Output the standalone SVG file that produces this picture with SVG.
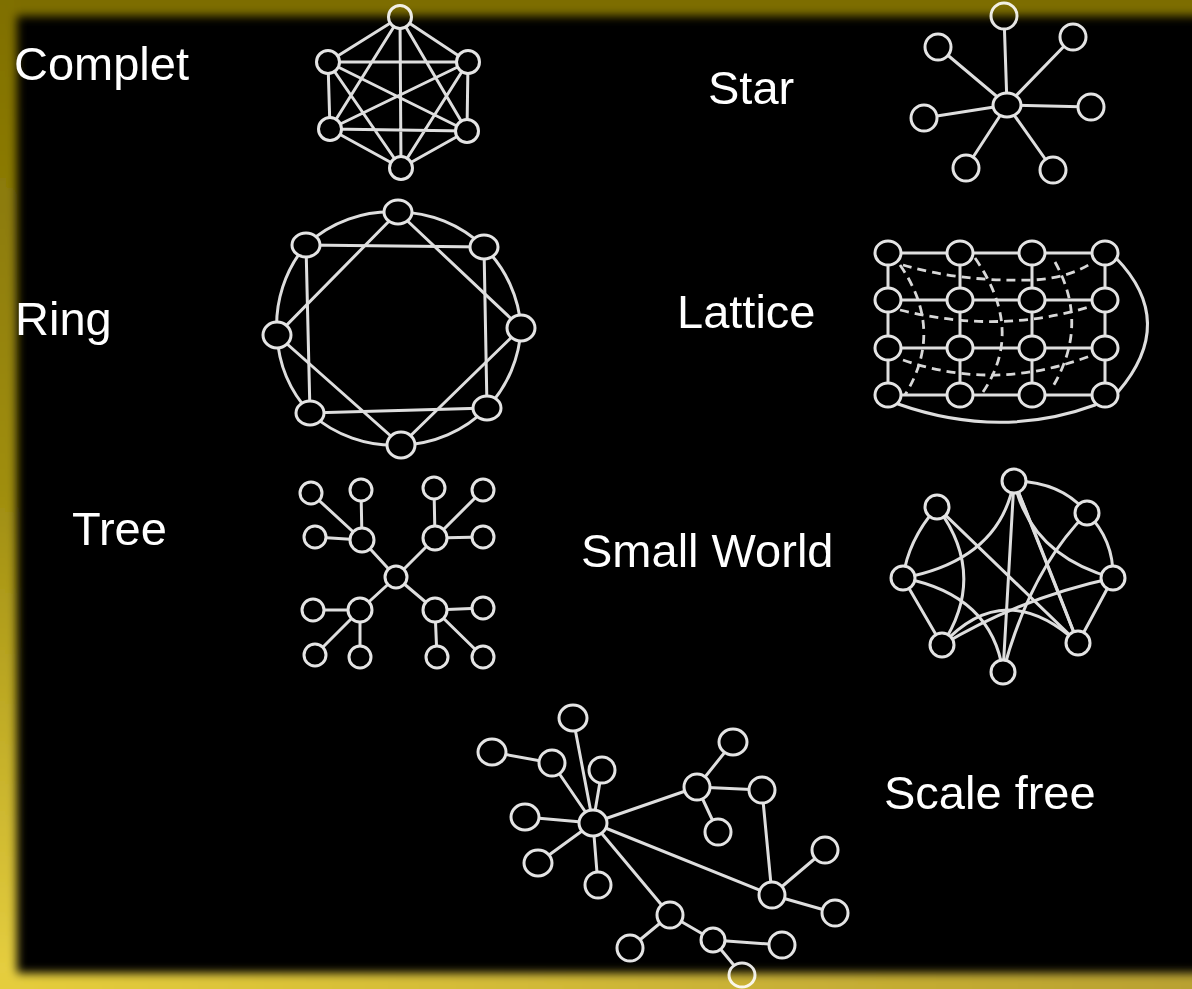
<svg xmlns="http://www.w3.org/2000/svg" width="1192" height="989" viewBox="0 0 1192 989">
<defs>
<style>
.e{fill:none;stroke:#dedede;stroke-width:3;stroke-linecap:round}
.d{fill:none;stroke:#d8d8d8;stroke-width:2.8;stroke-dasharray:9 6}
.n{fill:#000;stroke:#e4e4e4;stroke-width:3}
.t{font-family:"Liberation Sans",Arial,sans-serif;font-size:47px;fill:#fff}
</style>
<linearGradient id="gl" x1="0" y1="0" x2="0" y2="1">
<stop offset="0" stop-color="#7d6d00"/>
<stop offset="0.5" stop-color="#a08e10"/>
<stop offset="1" stop-color="#ecd444"/>
</linearGradient>
<linearGradient id="gb" x1="0" y1="0" x2="1" y2="0">
<stop offset="0" stop-color="#e6ce3c"/>
<stop offset="1" stop-color="#b8a030"/>
</linearGradient>
<filter id="blur" x="-0.1" y="-0.1" width="1.2" height="1.2">
<feGaussianBlur stdDeviation="5"/>
</filter>
</defs>
<rect x="0" y="0" width="1192" height="989" fill="#000"/>

<!-- Complete graph -->
<g id="complete">
<g id="complete-edges">
<path class="e" d="M400,17 L328,62 M400,17 L468,62 M400,17 L330,129 M400,17 L467,131 M400,17 L401,168 M328,62 L468,62 M328,62 L330,129 M328,62 L467,131 M328,62 L401,168 M468,62 L330,129 M468,62 L467,131 M468,62 L401,168 M330,129 L467,131 M330,129 L401,168 M467,131 L401,168"/>
</g>
<circle id="complete-n1" class="n" cx="400" cy="17" r="11.5"/>
<circle id="complete-n2" class="n" cx="328" cy="62" r="11.5"/>
<circle id="complete-n3" class="n" cx="468" cy="62" r="11.5"/>
<circle id="complete-n4" class="n" cx="330" cy="129" r="11.5"/>
<circle id="complete-n5" class="n" cx="467" cy="131" r="11.5"/>
<circle id="complete-n6" class="n" cx="401" cy="168" r="11.5"/>
</g>

<!-- Star -->
<g id="star">
<g id="star-edges">
<path class="e" d="M1007,105 L1004,16 M1007,105 L1073,37 M1007,105 L1091,107 M1007,105 L1053,170 M1007,105 L966,168 M1007,105 L924,118 M1007,105 L938,47"/>
</g>
<ellipse id="star-hub" class="n" cx="1007" cy="105" rx="14" ry="12"/>
<circle id="star-n1" class="n" cx="1004" cy="16" r="13"/>
<circle id="star-n2" class="n" cx="1073" cy="37" r="13"/>
<circle id="star-n3" class="n" cx="1091" cy="107" r="13"/>
<circle id="star-n4" class="n" cx="1053" cy="170" r="13"/>
<circle id="star-n5" class="n" cx="966" cy="168" r="13"/>
<circle id="star-n6" class="n" cx="924" cy="118" r="13"/>
<circle id="star-n7" class="n" cx="938" cy="47" r="13"/>
</g>

<!-- Ring -->
<g id="ring">
<g id="ring-edges">
<path class="e" d="M398,212 A125,125 0 0 1 484,247 A125,125 0 0 1 521,328 A125,125 0 0 1 487,408 A125,125 0 0 1 401,445 A125,125 0 0 1 310,413 A125,125 0 0 1 277,335 A125,125 0 0 1 306,245 A125,125 0 0 1 398,212 Z"/>
<path class="e" d="M306,245 L484,247 L487,408 L310,413 Z"/>
<path class="e" d="M398,212 L521,328 L401,445 L277,335 Z"/>
</g>
<ellipse id="ring-n1" class="n" cx="398" cy="212" rx="14" ry="12"/>
<ellipse id="ring-n2" class="n" cx="484" cy="247" rx="14" ry="12"/>
<ellipse id="ring-n3" class="n" cx="521" cy="328" rx="14" ry="13"/>
<ellipse id="ring-n4" class="n" cx="487" cy="408" rx="14" ry="12"/>
<ellipse id="ring-n5" class="n" cx="401" cy="445" rx="14" ry="13"/>
<ellipse id="ring-n6" class="n" cx="310" cy="413" rx="14" ry="12"/>
<ellipse id="ring-n7" class="n" cx="277" cy="335" rx="14" ry="13"/>
<ellipse id="ring-n8" class="n" cx="306" cy="245" rx="14" ry="12"/>
</g>

<!-- Lattice -->
<g id="lattice">
<g id="lattice-edges">
<path class="d" d="M903,265 Q960,282 1033,280 Q1070,278 1093,262"/>
<path class="d" d="M900,310 Q1000,335 1092,306"/>
<path class="d" d="M903,360 Q995,392 1090,356"/>
<path class="d" d="M900,265 Q945,330 905,395"/>
<path class="d" d="M975,258 Q1025,330 983,392"/>
<path class="d" d="M1055,262 Q1090,325 1052,388"/>
<path class="e" d="M888,253 H1105 M888,300 H1105 M888,348 H1105 M888,395 H1105 M888,253 V395 M960,253 V395 M1032,253 V395 M1105,253 V395"/>
<path class="e" d="M1116,258 Q1178,322 1118,392"/>
<path class="e" d="M898,404 Q1000,440 1095,405"/>
</g>
<ellipse id="lat-11" class="n" cx="888" cy="253" rx="13" ry="12"/>
<ellipse id="lat-12" class="n" cx="960" cy="253" rx="13" ry="12"/>
<ellipse id="lat-13" class="n" cx="1032" cy="253" rx="13" ry="12"/>
<ellipse id="lat-14" class="n" cx="1105" cy="253" rx="13" ry="12"/>
<ellipse id="lat-21" class="n" cx="888" cy="300" rx="13" ry="12"/>
<ellipse id="lat-22" class="n" cx="960" cy="300" rx="13" ry="12"/>
<ellipse id="lat-23" class="n" cx="1032" cy="300" rx="13" ry="12"/>
<ellipse id="lat-24" class="n" cx="1105" cy="300" rx="13" ry="12"/>
<ellipse id="lat-31" class="n" cx="888" cy="348" rx="13" ry="12"/>
<ellipse id="lat-32" class="n" cx="960" cy="348" rx="13" ry="12"/>
<ellipse id="lat-33" class="n" cx="1032" cy="348" rx="13" ry="12"/>
<ellipse id="lat-34" class="n" cx="1105" cy="348" rx="13" ry="12"/>
<ellipse id="lat-41" class="n" cx="888" cy="395" rx="13" ry="12"/>
<ellipse id="lat-42" class="n" cx="960" cy="395" rx="13" ry="12"/>
<ellipse id="lat-43" class="n" cx="1032" cy="395" rx="13" ry="12"/>
<ellipse id="lat-44" class="n" cx="1105" cy="395" rx="13" ry="12"/>
</g>

<!-- Tree -->
<g id="tree">
<g id="tree-edges">
<path class="e" d="M396,577 L362,540 M396,577 L435,538 M396,577 L360,610 M396,577 L435,610"/>
<path class="e" d="M362,540 L311,493 M362,540 L361,490 M362,540 L315,537"/>
<path class="e" d="M435,538 L434,488 M435,538 L483,490 M435,538 L483,537"/>
<path class="e" d="M360,610 L313,610 M360,610 L315,655 M360,610 L360,657"/>
<path class="e" d="M435,610 L483,608 M435,610 L437,657 M435,610 L483,657"/>
</g>
<circle id="tree-root" class="n" cx="396" cy="577" r="11"/>
<circle id="tree-h1" class="n" cx="362" cy="540" r="12"/>
<circle id="tree-h2" class="n" cx="435" cy="538" r="12"/>
<circle id="tree-h3" class="n" cx="360" cy="610" r="12"/>
<circle id="tree-h4" class="n" cx="435" cy="610" r="12"/>
<circle id="tree-l1" class="n" cx="311" cy="493" r="11"/>
<circle id="tree-l2" class="n" cx="361" cy="490" r="11"/>
<circle id="tree-l3" class="n" cx="315" cy="537" r="11"/>
<circle id="tree-l4" class="n" cx="434" cy="488" r="11"/>
<circle id="tree-l5" class="n" cx="483" cy="490" r="11"/>
<circle id="tree-l6" class="n" cx="483" cy="537" r="11"/>
<circle id="tree-l7" class="n" cx="313" cy="610" r="11"/>
<circle id="tree-l8" class="n" cx="315" cy="655" r="11"/>
<circle id="tree-l9" class="n" cx="360" cy="657" r="11"/>
<circle id="tree-l10" class="n" cx="483" cy="608" r="11"/>
<circle id="tree-l11" class="n" cx="437" cy="657" r="11"/>
<circle id="tree-l12" class="n" cx="483" cy="657" r="11"/>
</g>

<!-- Small World -->
<g id="smallworld">
<g id="smallworld-edges">
<path class="e" d="M1014,481 Q1062,482 1087,513"/>
<path class="e" d="M1087,513 Q1114,540 1113,578"/>
<path class="e" d="M1113,578 L1078,643"/>
<path class="e" d="M937,507 Q908,540 903,578"/>
<path class="e" d="M903,578 L942,645"/>
<path class="e" d="M1014,481 Q1000,560 903,578"/>
<path class="e" d="M937,507 Q988,575 942,645"/>
<path class="e" d="M937,507 L1078,643"/>
<path class="e" d="M903,578 Q992,595 1003,672"/>
<path class="e" d="M1014,481 L1003,672"/>
<path class="e" d="M1014,481 L1078,643"/>
<path class="e" d="M1014,481 Q1048,565 1078,643"/>
<path class="e" d="M942,645 Q1005,576 1078,643"/>
<path class="e" d="M1087,513 Q1030,570 1003,672"/>
<path class="e" d="M1113,578 Q1020,598 942,645"/>
<path class="e" d="M1014,481 Q1030,555 1113,578"/>
</g>
<circle id="sw-n1" class="n" cx="1014" cy="481" r="12"/>
<circle id="sw-n2" class="n" cx="937" cy="507" r="12"/>
<circle id="sw-n3" class="n" cx="1087" cy="513" r="12"/>
<circle id="sw-n4" class="n" cx="903" cy="578" r="12"/>
<circle id="sw-n5" class="n" cx="1113" cy="578" r="12"/>
<circle id="sw-n6" class="n" cx="942" cy="645" r="12"/>
<circle id="sw-n7" class="n" cx="1078" cy="643" r="12"/>
<circle id="sw-n8" class="n" cx="1003" cy="672" r="12"/>
</g>

<!-- Scale free -->
<g id="scalefree">
<g id="scalefree-edges">
<path class="e" d="M593,823 L573,718 M593,823 L552,763 M552,763 L492,752 M593,823 L602,770 M593,823 L525,817 M593,823 L538,863 M593,823 L598,885"/>
<path class="e" d="M593,823 L697,787 M697,787 L733,742 M697,787 L718,832 M697,787 L762,790 M762,790 L772,895"/>
<path class="e" d="M593,823 L772,895 M772,895 L825,850 M772,895 L835,913"/>
<path class="e" d="M593,823 L670,915 M670,915 L630,948 M670,915 L713,940 M713,940 L782,945 M713,940 L742,975"/>
</g>
<ellipse id="sf-hub" class="n" cx="593" cy="823" rx="14" ry="13"/>
<ellipse id="sf-a" class="n" cx="573" cy="718" rx="14" ry="13"/>
<ellipse id="sf-b" class="n" cx="492" cy="752" rx="14" ry="13"/>
<ellipse id="sf-c" class="n" cx="552" cy="763" rx="13" ry="13"/>
<ellipse id="sf-d" class="n" cx="602" cy="770" rx="13" ry="13"/>
<ellipse id="sf-e" class="n" cx="525" cy="817" rx="14" ry="13"/>
<ellipse id="sf-f" class="n" cx="538" cy="863" rx="14" ry="13"/>
<ellipse id="sf-g" class="n" cx="598" cy="885" rx="13" ry="13"/>
<ellipse id="sf-h2" class="n" cx="697" cy="787" rx="13" ry="13"/>
<ellipse id="sf-m" class="n" cx="733" cy="742" rx="14" ry="13"/>
<ellipse id="sf-n" class="n" cx="718" cy="832" rx="13" ry="13"/>
<ellipse id="sf-o" class="n" cx="762" cy="790" rx="13" ry="13"/>
<ellipse id="sf-h3" class="n" cx="772" cy="895" rx="13" ry="13"/>
<ellipse id="sf-p" class="n" cx="825" cy="850" rx="13" ry="13"/>
<ellipse id="sf-q" class="n" cx="835" cy="913" rx="13" ry="13"/>
<ellipse id="sf-h4" class="n" cx="670" cy="915" rx="13" ry="13"/>
<ellipse id="sf-s" class="n" cx="630" cy="948" rx="13" ry="13"/>
<ellipse id="sf-h5" class="n" cx="713" cy="940" rx="12" ry="12"/>
<ellipse id="sf-t" class="n" cx="782" cy="945" rx="13" ry="13"/>
<ellipse id="sf-u" class="n" cx="742" cy="975" rx="13" ry="12"/>
</g>

<!-- Labels -->
<g id="labels">
<text class="t" x="14" y="80">Complet</text>
<text class="t" x="708" y="104">Star</text>
<text class="t" x="15" y="335">Ring</text>
<text class="t" x="677" y="328">Lattice</text>
<text class="t" x="72" y="545">Tree</text>
<text class="t" x="581" y="567">Small World</text>
<text class="t" x="884" y="809">Scale free</text>
</g>

<!-- Frame -->
<g id="frame" filter="url(#blur)" style="mix-blend-mode:screen">
<rect x="-30" y="-30" width="1252" height="46" fill="#7d6d00"/>
<rect x="-30" y="-30" width="47" height="1050" fill="url(#gl)"/>
<rect x="-30" y="973" width="1252" height="50" fill="url(#gb)"/>
</g>
</svg>
